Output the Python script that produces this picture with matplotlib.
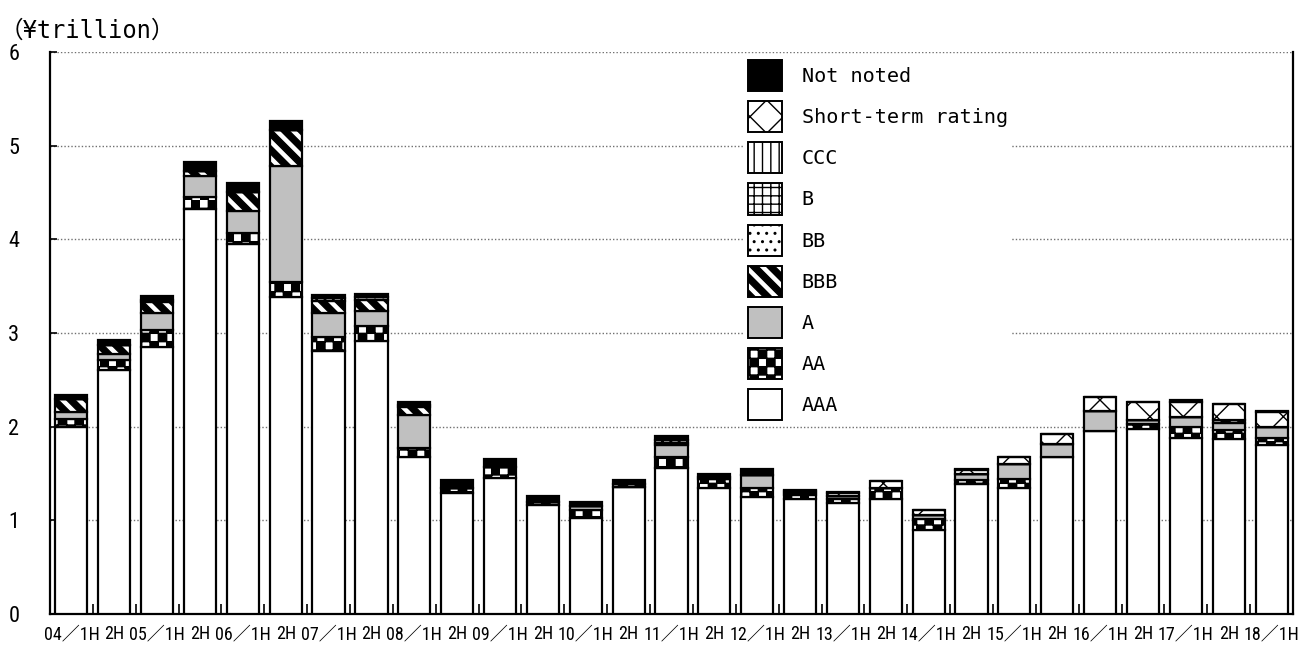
import warnings
import numpy as np
import matplotlib
matplotlib.use("Agg")
import matplotlib.pyplot as plt
import matplotlib.hatch as mhatch
from matplotlib.path import Path

warnings.filterwarnings("ignore")

# half-year periods
periods = ["04／1H", "2H", "05／1H", "2H", "06／1H", "2H", "07／1H", "2H",
           "08／1H", "2H", "09／1H", "2H", "10／1H", "2H", "11／1H", "2H",
           "12／1H", "2H", "13／1H", "2H", "14／1H", "2H", "15／1H", "2H",
           "16／1H", "2H", "17／1H", "2H", "18／1H"]

# issuance by rating (yen trillion)
aaa = [2.00, 2.60, 2.85, 4.32, 3.95, 3.38, 2.81, 2.91, 1.68, 1.29, 1.45, 1.16, 1.02, 1.36, 1.56,
       1.34, 1.25, 1.23, 1.19, 1.23, 0.90, 1.39, 1.35, 1.68, 1.95, 1.97, 1.88, 1.87, 1.80]
aa = [0.08, 0.11, 0.18, 0.13, 0.12, 0.16, 0.15, 0.16, 0.09, 0.06, 0.12, 0.04, 0.09, 0.00, 0.12,
      0.10, 0.09, 0.04, 0.04, 0.12, 0.11, 0.04, 0.09, 0.00, 0.00, 0.06, 0.12, 0.09, 0.08]
a = [0.08, 0.07, 0.18, 0.23, 0.23, 1.24, 0.25, 0.16, 0.35, 0.00, 0.00, 0.00, 0.04, 0.00, 0.12,
     0.00, 0.14, 0.02, 0.03, 0.00, 0.05, 0.06, 0.16, 0.14, 0.22, 0.04, 0.10, 0.08, 0.12]
bbb = [0.13, 0.09, 0.12, 0.05, 0.20, 0.39, 0.13, 0.12, 0.09, 0.00, 0.00, 0.00, 0.00, 0.03, 0.03,
       0.02, 0.00, 0.00, 0.00, 0.00, 0.00, 0.00, 0.00, 0.00, 0.00, 0.00, 0.00, 0.03, 0.00]
bb = [0.00, 0.00, 0.02, 0.00, 0.00, 0.00, 0.03, 0.03, 0.02, 0.00, 0.00, 0.00, 0.00, 0.00, 0.03,
      0.00, 0.00, 0.00, 0.00, 0.00, 0.00, 0.00, 0.00, 0.00, 0.00, 0.00, 0.00, 0.00, 0.00]
b = [0.0] * 29
ccc = [0.0] * 29
short_term = [0.00, 0.00, 0.00, 0.00, 0.00, 0.00, 0.00, 0.00, 0.00, 0.00, 0.00, 0.00, 0.00, 0.00, 0.00,
              0.00, 0.00, 0.02, 0.03, 0.07, 0.05, 0.05, 0.08, 0.10, 0.15, 0.19, 0.16, 0.17, 0.16]
not_noted = [0.05, 0.05, 0.04, 0.09, 0.10, 0.09, 0.04, 0.04, 0.03, 0.08, 0.08, 0.06, 0.05, 0.04, 0.04,
             0.03, 0.07, 0.01, 0.01, 0.00, 0.00, 0.01, 0.00, 0.00, 0.00, 0.00, 0.02, 0.00, 0.01]


# custom filled hatches: checkerboard ('k') and thick SE stripes ('z')
class CheckerHatch(mhatch.HatchPatternBase):
    def __init__(self, hatch, density):
        self.n = int(hatch.count('k') * density)
        self.num_vertices = 10 * self.n * self.n

    def set_vertices_and_codes(self, vertices, codes):
        s = 1.0 / (2 * self.n)
        i = 0
        for r in range(self.n):
            for c in range(self.n):
                for dx, dy in ((0, 0), (1, 1)):
                    x0 = (2 * c + dx) * s
                    y0 = (2 * r + dy) * s
                    vertices[i:i + 5] = [(x0, y0), (x0 + s, y0), (x0 + s, y0 + s), (x0, y0 + s), (x0, y0)]
                    codes[i:i + 5] = [Path.MOVETO, Path.LINETO, Path.LINETO, Path.LINETO, Path.CLOSEPOLY]
                    i += 5


class StripeHatch(mhatch.HatchPatternBase):
    def __init__(self, hatch, density):
        self.n = int(hatch.count('z') * density)
        self.num_vertices = 5 * (2 * self.n + 1) if self.n else 0

    def set_vertices_and_codes(self, vertices, codes):
        w = 0.5 / self.n
        i = 0
        for k in range(-self.n, self.n + 1):
            o = k / self.n
            vertices[i:i + 5] = [(o, 1), (o + w, 1), (o + w + 1, 0), (o + 1, 0), (o, 1)]
            codes[i:i + 5] = [Path.MOVETO, Path.LINETO, Path.LINETO, Path.LINETO, Path.CLOSEPOLY]
            i += 5


mhatch._hatch_types.append(CheckerHatch)
mhatch._hatch_types.append(StripeHatch)

plt.rcParams['font.family'] = ['Noto Sans CJK JP', 'DejaVu Sans']
plt.rcParams['hatch.linewidth'] = 1.0
narrow = ['Roboto Condensed', 'Noto Sans CJK JP', 'DejaVu Sans']
mono = ['DejaVu Sans Mono', 'Noto Sans CJK JP']

series = [
    ("AAA", aaa, "white", None),
    ("AA", aa, "white", "k"),
    ("A", a, "#c0c0c0", None),
    ("BBB", bbb, "white", "z"),
    ("BB", bb, "white", ".."),
    ("B", b, "white", "++"),
    ("CCC", ccc, "white", "||"),
    ("Short-term rating", short_term, "white", "x"),
    ("Not noted", not_noted, "black", None),
]

fig = plt.figure(figsize=(13.11, 6.48), dpi=100)
ax = fig.add_axes([0.0381, 0.0525, 0.9482, 0.8673])

x = np.arange(len(periods))
bottom = np.zeros(len(periods))
handles = []
for name, vals, color, hatch in series:
    vals = np.array(vals)
    bars = ax.bar(x, vals, bottom=bottom, width=0.75, color=color, edgecolor="black",
                  linewidth=1.6, hatch=hatch, label=name, zorder=3)
    handles.append(bars)
    bottom += vals

ax.set_xlim(-0.5, len(periods) - 0.5)
ax.set_ylim(0, 6)
ax.set_yticks(range(7))
ax.yaxis.grid(True, linestyle=(0, (1, 1.5)), color="#707070", linewidth=1.0, zorder=0)
ax.set_axisbelow(True)

ax.spines["top"].set_visible(False)
for s in ("left", "right", "bottom"):
    ax.spines[s].set_linewidth(1.6)

ax.set_xticks(x)
ax.set_xticklabels(periods, fontsize=13, family=narrow)
ax.set_xticks(np.arange(len(periods) + 1) - 0.5, minor=True)
ax.tick_params(axis="x", which="major", length=0, pad=8)
ax.tick_params(axis="x", which="minor", direction="in", length=7, width=1.2)
ax.tick_params(axis="y", direction="in", length=5, width=1.2, labelsize=16, pad=22)
for lab in ax.get_yticklabels():
    lab.set_family(narrow)

fig.text(0.0, 0.953, "（¥trillion）", fontsize=17, ha="left", va="center", family=mono)

leg = ax.legend(handles[::-1], [s[0] for s in series][::-1], loc="upper left",
                bbox_to_anchor=(0.5505, 1.011), frameon=True, fancybox=False,
                prop={'family': mono, 'size': 14.5},
                edgecolor="none", framealpha=1.0, handlelength=1.65, handleheight=2.0,
                labelspacing=0.5, handletextpad=1.0, borderpad=0.2)
leg.get_frame().set_linewidth(0)
for h in leg.legend_handles:
    h.set_linewidth(1.4)

fig.savefig("out.png", dpi=100)
